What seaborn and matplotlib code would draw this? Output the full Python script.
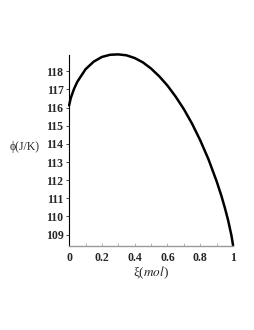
import numpy as np
import pandas as pd
import matplotlib
matplotlib.use("Agg")
import matplotlib.pyplot as plt
import seaborn as sns

# values
xi = [0.0, 0.01, 0.03, 0.05, 0.10, 0.15, 0.20, 0.25, 0.30, 0.35, 0.40, 0.45,
      0.50, 0.55, 0.60, 0.65, 0.70, 0.75, 0.80, 0.85, 0.90, 0.93, 0.95, 0.97,
      0.99, 1.0]
phi = [116.12, 116.52, 117.03, 117.42, 118.11, 118.53, 118.79, 118.91, 118.93,
       118.88, 118.73, 118.49, 118.15, 117.72, 117.21, 116.60, 115.91, 115.11,
       114.19, 113.15, 111.93, 111.10, 110.47, 109.78, 108.95, 108.40]
x_ticks = [0, 0.2, 0.4, 0.6, 0.8, 1]
x_tick_labels = ["0", "0.2", "0.4", "0.6", "0.8", "1"]
y_ticks = [109, 110, 111, 112, 113, 114, 115, 116, 117, 118]

df = pd.DataFrame({"xi": xi, "phi": phi})

sns.set_style("white")
plt.rcParams["font.family"] = ["Liberation Serif", "DejaVu Serif"]
plt.rcParams["mathtext.fontset"] = "stix"

fig = plt.figure(figsize=(2.55, 3.3), dpi=100)
ax = fig.add_axes([0.271, 0.2545, 0.643, 0.579])

sns.lineplot(data=df, x="xi", y="phi", color="black", linewidth=1.8, ax=ax)
for line in ax.lines:
    line.set_clip_on(False)

ax.set_xlim(0, 1)
ax.set_ylim(108.37, 118.9)
ax.set_xticks(x_ticks)
ax.set_xticklabels(x_tick_labels, fontweight="bold", fontsize=8.5)
ax.set_yticks(y_ticks)
ax.set_yticklabels([str(v) for v in y_ticks], fontweight="bold", fontsize=8.5)
ax.set_xticks(np.arange(0, 1.01, 0.1), minor=True)

for side in ["top", "right"]:
    ax.spines[side].set_visible(False)
ax.spines["left"].set_color("black")
ax.spines["left"].set_linewidth(0.8)
ax.spines["bottom"].set_color("#999999")
ax.spines["bottom"].set_linewidth(1.0)

ax.tick_params(axis="y", length=2, width=0.6, pad=2, left=True)
ax.tick_params(axis="x", which="both", length=2, width=0.5, color="#999999",
               direction="in", pad=4, bottom=True)

ax.set_xlabel(r"ξ($\mathit{mol}$)", fontsize=9.5, labelpad=1)
ax.set_ylabel("ϕ(J/K)", fontsize=8.5, rotation=0, ha="center", va="center")
ax.yaxis.set_label_coords(-0.274, 0.518)

fig.savefig("out.png", dpi=100)
